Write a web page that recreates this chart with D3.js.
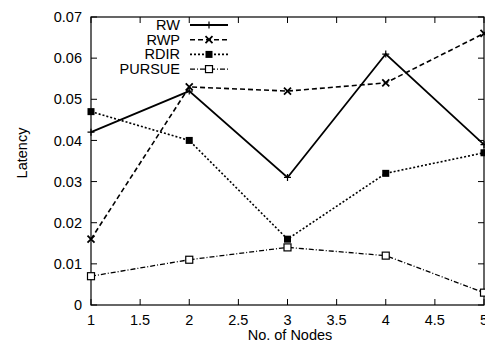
<!DOCTYPE html>
<html>
<head>
<meta charset="utf-8">
<script src="https://cdn.jsdelivr.net/npm/d3@7"></script>
<style>
  body { margin: 0; background: #fff; }
  text { font-family: "Liberation Sans", Arial, sans-serif; font-size: 14.5px; fill: #000; }
</style>
</head>
<body>
<div id="chart-container"></div>
<script>
// Data
const nodes = [1, 2, 3, 4, 5];
const rw     = [0.042, 0.052, 0.031, 0.061, 0.039];
const rwp    = [0.016, 0.053, 0.052, 0.054, 0.066];
const rdir   = [0.047, 0.040, 0.016, 0.032, 0.037];
const pursue = [0.007, 0.011, 0.014, 0.012, 0.003];
const seriesNames = ["RW", "RWP", "RDIR", "PURSUE"];
const xTicks = [1, 1.5, 2, 2.5, 3, 3.5, 4, 4.5, 5];
const yTicks = [0, 0.01, 0.02, 0.03, 0.04, 0.05, 0.06, 0.07];

const W = 485, H = 348;
const margin = { top: 17, right: 1, bottom: 43, left: 91 };
const width = W - margin.left - margin.right;
const height = H - margin.top - margin.bottom;

const svg = d3.select("#chart-container")
  .append("svg")
  .attr("width", W)
  .attr("height", H);

const g = svg.append("g")
  .attr("transform", `translate(${margin.left},${margin.top})`);

const x = d3.scaleLinear().domain([1, 5]).range([0, width]);
const y = d3.scaleLinear().domain([0, 0.07]).range([height, 0]);

// Frame
g.append("rect")
  .attr("width", width)
  .attr("height", height)
  .attr("fill", "none")
  .attr("stroke", "#000")
  .attr("stroke-width", 1.2);

// Ticks (inside, mirrored)
const tickLen = 6;
xTicks.forEach(t => {
  g.append("line").attr("x1", x(t)).attr("x2", x(t)).attr("y1", height).attr("y2", height - tickLen).attr("stroke", "#000");
  g.append("line").attr("x1", x(t)).attr("x2", x(t)).attr("y1", 0).attr("y2", tickLen).attr("stroke", "#000");
  g.append("text").attr("x", x(t)).attr("y", height + 20).attr("text-anchor", "middle").text(d3.format("")(t));
});
yTicks.forEach(t => {
  g.append("line").attr("x1", 0).attr("x2", tickLen).attr("y1", y(t)).attr("y2", y(t)).attr("stroke", "#000");
  g.append("line").attr("x1", width).attr("x2", width - tickLen).attr("y1", y(t)).attr("y2", y(t)).attr("stroke", "#000");
  g.append("text").attr("x", -9).attr("y", y(t)).attr("dy", "0.35em").attr("text-anchor", "end").text(t === 0 ? "0" : d3.format(".2f")(t));
});

// Axis labels
svg.append("text")
  .attr("x", 290)
  .attr("y", 340)
  .attr("text-anchor", "middle")
  .text("No. of Nodes");
svg.append("text")
  .attr("transform", "translate(27,153) rotate(-90)")
  .attr("text-anchor", "middle")
  .text("Latency");

// Series styles
const series = [
  { name: seriesNames[0], values: rw,     dash: null,        width: 1.8, marker: "plus" },
  { name: seriesNames[1], values: rwp,    dash: "5,3",       width: 1.6, marker: "cross" },
  { name: seriesNames[2], values: rdir,   dash: "2,2",       width: 1.6, marker: "fsquare" },
  { name: seriesNames[3], values: pursue, dash: "5,2,1,2",   width: 1.3, marker: "osquare" }
];

function drawMarker(sel, type, cx, cy) {
  const s = 3.5;
  if (type === "plus") {
    sel.append("path").attr("d", `M${cx - s},${cy}H${cx + s}M${cx},${cy - s}V${cy + s}`).attr("stroke", "#000").attr("stroke-width", 1.2);
  } else if (type === "cross") {
    sel.append("path").attr("d", `M${cx - s},${cy - s}L${cx + s},${cy + s}M${cx - s},${cy + s}L${cx + s},${cy - s}`).attr("stroke", "#000").attr("stroke-width", 1.8);
  } else if (type === "fsquare") {
    sel.append("rect").attr("x", cx - 3.5).attr("y", cy - 3.5).attr("width", 7).attr("height", 7).attr("fill", "#000");
  } else {
    sel.append("rect").attr("x", cx - 3.5).attr("y", cy - 3.5).attr("width", 7).attr("height", 7).attr("fill", "#fff").attr("stroke", "#000").attr("stroke-width", 1.2);
  }
}

const line = d3.line()
  .x((d, i) => x(nodes[i]))
  .y(d => y(d));

series.forEach(s => {
  g.append("path")
    .datum(s.values)
    .attr("fill", "none")
    .attr("stroke", "#000")
    .attr("stroke-width", s.width)
    .attr("stroke-dasharray", s.dash)
    .attr("d", line);
  s.values.forEach((v, i) => drawMarker(g, s.marker, x(nodes[i]), y(v)));
});

// Legend
const legX = 190, legW = 38, legY0 = 25, legStep = 14.7;
series.forEach((s, i) => {
  const ly = legY0 + i * legStep;
  svg.append("text").attr("x", 180).attr("y", ly).attr("dy", "0.35em").attr("text-anchor", "end").text(s.name);
  svg.append("line")
    .attr("x1", legX).attr("x2", legX + legW)
    .attr("y1", ly).attr("y2", ly)
    .attr("stroke", "#000")
    .attr("stroke-width", s.width)
    .attr("stroke-dasharray", s.dash);
  drawMarker(svg, s.marker, legX + legW / 2, ly);
});
</script>
</body>
</html>
